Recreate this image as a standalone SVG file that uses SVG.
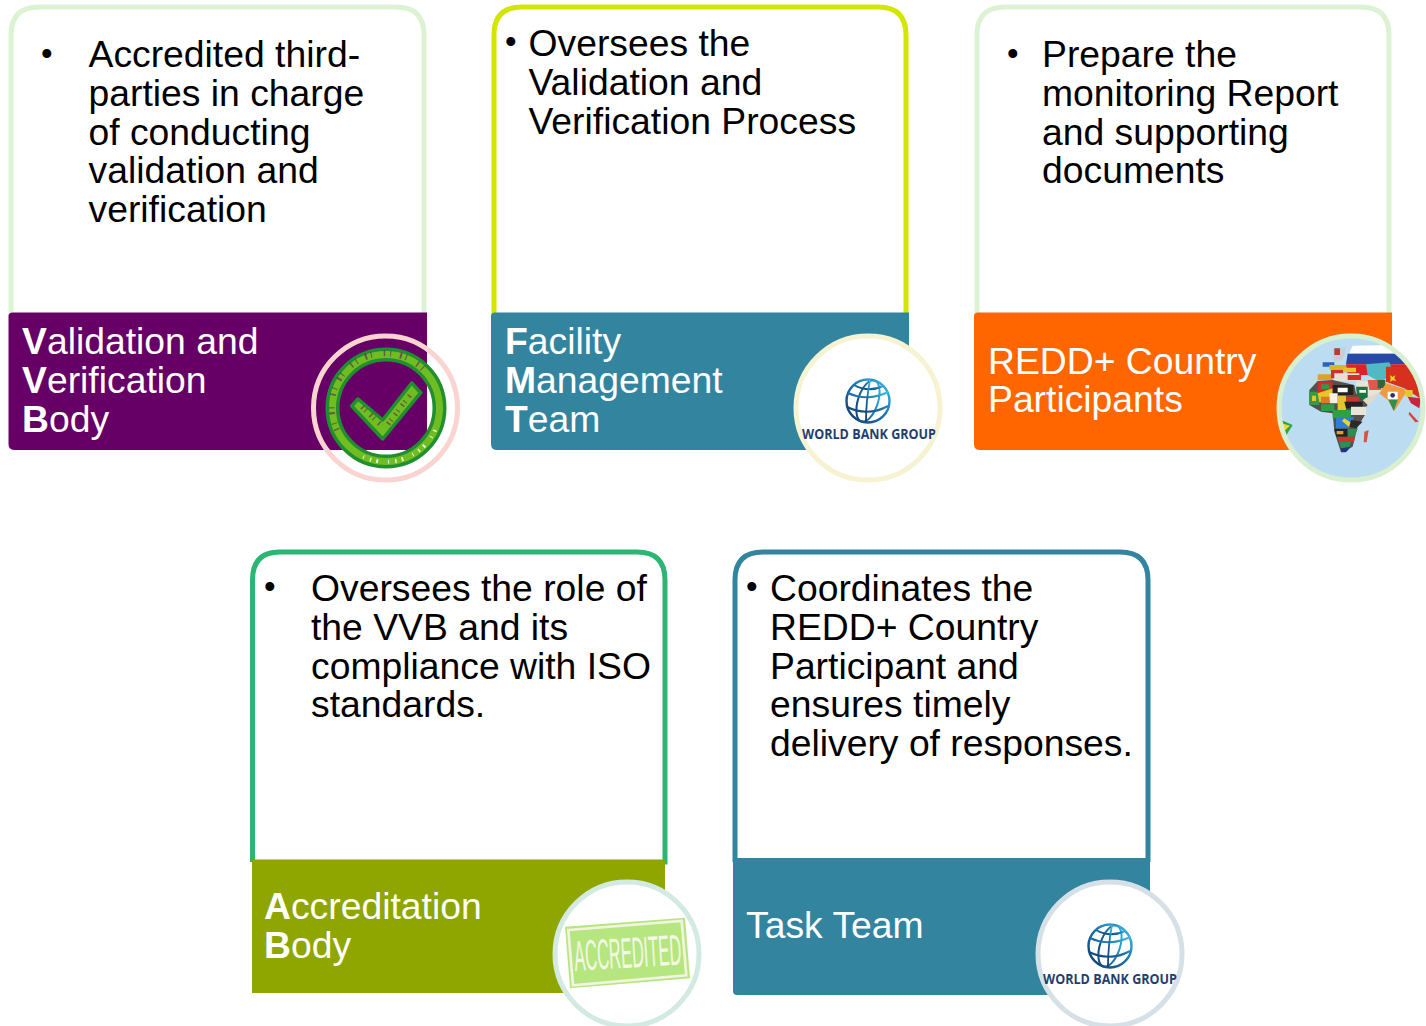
<svg xmlns="http://www.w3.org/2000/svg" width="1426" height="1026" viewBox="0 0 1426 1026">
<style>
text{font-family:"Liberation Sans",Arial,sans-serif}
.body{font-size:37.3px;fill:#000}
.bul{font-size:33px;fill:#000}
.head{font-size:37.3px;fill:#fff}
.head tspan.b{font-weight:700}
.card{fill:#fff;stroke-width:5}
.ring{stroke-width:5}
.wb{font-family:"Open Sans","Liberation Sans",sans-serif;font-weight:700;font-size:13.5px;fill:#1f3f70}
</style>
<defs>
<clipPath id="c3"><circle cx="1351" cy="408" r="73"/></clipPath>
<clipPath id="c2"><circle cx="868" cy="408" r="72"/></clipPath>
<clipPath id="c5"><circle cx="1110" cy="954" r="72"/></clipPath>
<linearGradient id="gl" x1="0" y1="1" x2="1" y2="0"><stop offset="0" stop-color="#123a6b"/><stop offset="0.5" stop-color="#1c6fa8"/><stop offset="1" stop-color="#3cc0ea"/></linearGradient>
<g id="wbglobe">
<circle cx="0" cy="0" r="21.500" fill="none" stroke="url(#gl)" stroke-width="2.400"/>
<ellipse cx="0" cy="0" rx="10" ry="21.500" fill="none" stroke="url(#gl)" stroke-width="2" transform="rotate(18)"/>
<path d="M-20-8Q0 1 20-9M-21 6Q0 16 20 5" fill="none" stroke="url(#gl)" stroke-width="2"/>
<path d="M-14-16Q0-8 15-15" fill="none" stroke="url(#gl)" stroke-width="2"/>
<path d="M2-21Q-2 0 -2 21" fill="none" stroke="url(#gl)" stroke-width="1.800"/>
</g>
</defs>
<rect width="1426" height="1026" fill="#fff"/>
<g id="connectors"></g>

<g id="node-vvb">
<path class="card" stroke="#dbf3d3" d="M11 316V35Q11 7 39 7H396Q424 7 424 35V316"/>
<path d="M13 312.500H427V450H15Q8.500 450 8.500 444V316Q8.500 312.500 13 312.500Z" fill="#660066"/>
<text class="bul" x="41" y="65">•</text>
<text class="body"><tspan x="88.500" y="67">Accredited third-</tspan><tspan x="88.500" y="106">parties in charge</tspan><tspan x="88.500" y="145">of conducting</tspan><tspan x="88.500" y="183">validation and</tspan><tspan x="88.500" y="222">verification</tspan></text>
<text class="head"><tspan x="22" y="354" class="b">V</tspan><tspan>alidation and</tspan><tspan x="22" y="393" class="b">V</tspan><tspan>erification</tspan><tspan x="22" y="432" class="b">B</tspan><tspan>ody</tspan></text>
<circle class="ring" cx="385.500" cy="408" r="72" fill="none" stroke="#fad4d0"/>
<circle cx="386" cy="408" r="53.500" fill="none" stroke="#1f8f30" stroke-width="14"/>
<circle cx="386" cy="408" r="53.500" fill="none" stroke="#6fbd20" stroke-width="7"/>
<path d="M337 430A53.500 53.500 0 0 1 425 371" fill="none" stroke="#660066" stroke-width="6" stroke-dasharray="1.500 5 1 9 2 4 1 12" opacity=".55"/>
<path d="M435 430A53.500 53.500 0 0 1 360 455" fill="none" stroke="#fff" stroke-width="4" stroke-dasharray="1.500 6 1 10 2 5" opacity=".8"/>
<path d="M351.700 406L358 399 382.700 420 411.700 383 420.700 392.700 382.700 439Z" fill="#6fbd20" stroke="#1f8f30" stroke-width="3.500" stroke-linejoin="round"/>
<path d="M362 407L382 426M388 424L411 394" fill="none" stroke="#660066" stroke-width="5" stroke-dasharray="1.500 3 1 6" opacity=".55"/>
</g>

<g id="node-fmt">
<path class="card" stroke="#d4e600" d="M494 316V35Q494 7 522 7H878Q906 7 906 35V316"/>
<path d="M495 312.500H909V450H497Q491 450 491 444V316Q491 312.500 495 312.500Z" fill="#33849f"/>
<text class="bul" x="505" y="53">•</text>
<text class="body"><tspan x="528.500" y="56">Oversees the</tspan><tspan x="528.500" y="95">Validation and</tspan><tspan x="528.500" y="134">Verification Process</tspan></text>
<text class="head"><tspan x="505" y="354" class="b">F</tspan><tspan>acility</tspan><tspan x="505" y="393" class="b">M</tspan><tspan>anagement</tspan><tspan x="505" y="432" class="b">T</tspan><tspan>eam</tspan></text>
<circle class="ring" cx="868" cy="408" r="72" fill="#fff" stroke="#f6f3d2"/>
<use href="#wbglobe" x="868" y="401"/>
<g clip-path="url(#c2)"><text class="wb" x="802" y="439" textLength="134" lengthAdjust="spacingAndGlyphs">WORLD BANK GROUP</text></g>
</g>

<g id="node-redd">
<path class="card" stroke="#dbf3d3" d="M977 316V35Q977 7 1005 7H1361Q1389 7 1389 35V316"/>
<path d="M978 312.500H1392V450H980Q974 450 974 444V316Q974 312.500 978 312.500Z" fill="#ff6600"/>
<text class="bul" x="1007" y="65">•</text>
<text class="body"><tspan x="1042" y="67">Prepare the</tspan><tspan x="1042" y="106">monitoring Report</tspan><tspan x="1042" y="145">and supporting</tspan><tspan x="1042" y="183">documents</tspan></text>
<text class="head"><tspan x="988" y="374">REDD+ Country</tspan><tspan x="988" y="412">Participants</tspan></text>
<circle cx="1351" cy="408" r="73" fill="#bcdcf2"/>
<g clip-path="url(#c3)">
<g transform="translate(1266 325) scale(.3333)">
<path d="M260 62L380 60 400 85H250Z" fill="#fff"/>
<path d="M245 86H440V118H240Z" fill="#2a48a8"/>
<path d="M240 118H480V150H245Z" fill="#d8232a"/>
<path d="M200 72L240 66 232 100 205 112Z" fill="#c6cfd4"/>
<path d="M205 70H222V90H205Z" fill="#b93a3a"/>
<path d="M170 112H205V125H170Z" fill="#2c63b5"/>
<path d="M190 120H240V135H190Z" fill="#e3b21f"/>
<path d="M155 148H200V165H155Z" fill="#e0a02a"/>
<path d="M195 135H232V160H195Z" fill="#c8352f"/>
<path d="M232 128H270V142H232Z" fill="#e9c22b"/>
<path d="M205 145H280V168H205Z" fill="#e8e0d0"/>
<path d="M245 150H285V165H245Z" fill="#d42e2b"/>
<path d="M300 118L370 112 385 150 340 170 305 150Z" fill="#4fb9c4"/>
<path d="M360 125L480 125 470 225 415 190 360 170Z" fill="#d6311f"/>
<path d="M372 150l8 6 8-6-3 10 6 8-11-2-8 5 2-10Z" fill="#f5d020"/>
<path d="M270 170L345 165 345 200 310 215 270 190Z" fill="#e9e4da"/>
<path d="M305 165H345V195H310Z" fill="#e4574d"/>
<path d="M335 165H358V190H335Z" fill="#276a3c"/>
<path d="M270 185H305V225H275Z" fill="#17773e"/>
<path d="M280 195h20v8h-20Z" fill="#fff"/>
<path d="M298 220L340 205 310 240 285 230Z" fill="#e2d9c8"/>
<path d="M360 175L425 195 400 235 385 258 365 225 340 205Z" fill="#f09a3e"/>
<path d="M365 200H395V222H365Z" fill="#fff"/>
<circle cx="380" cy="211" r="7" fill="#26327f"/>
<path d="M368 225H395L383 258Z" fill="#2f8f46"/>
<path d="M415 195H440V215H420Z" fill="#e8c52b"/>
<path d="M425 215L465 220 460 250 435 235Z" fill="#c8243b"/>
<path d="M430 260L458 290 448 292 428 268Z" fill="#d8443c"/>
<path d="M130 195L155 168 200 165 265 180 270 205 305 240 285 265 300 265 275 305 260 365 225 382 205 320 200 265 165 260 130 240Z" fill="#55504a"/>
<path d="M130 200H160V240H130Z" fill="#2e9c49"/>
<path d="M138 212H150V228H138Z" fill="#e6c624"/>
<path d="M155 170H200V205H155Z" fill="#cf2d2d"/>
<path d="M165 178H190V192H165Z" fill="#2b9a4a"/>
<path d="M155 205L200 190V232H160Z" fill="#e6c624"/>
<path d="M200 180H262V210H200Z" fill="#222"/>
<path d="M215 188H245V202H215Z" fill="#fff"/>
<path d="M165 215H195V235H165Z" fill="#e07a22"/>
<path d="M190 205H215V235H192Z" fill="#f4f0e8"/>
<path d="M215 212H240V255H215Z" fill="#e5c52a"/>
<path d="M240 215H280V230H240Z" fill="#c9342f"/>
<path d="M235 230H290V250H240Z" fill="#222"/>
<path d="M165 238H205V258H165Z" fill="#2e9c49"/>
<path d="M200 255H255V280H200Z" fill="#2f9e44"/>
<path d="M255 245H300V270H255Z" fill="#e9e4da"/>
<path d="M210 280L265 275 250 310 210 310Z" fill="#2b7fd6"/>
<path d="M235 280L262 298 248 305 228 288Z" fill="#e8d235"/>
<path d="M255 285L290 290 270 310 250 305Z" fill="#2a2a2a"/>
<path d="M205 312H245V335H212Z" fill="#222"/>
<path d="M212 318H232V328H212Z" fill="#e4a026"/>
<path d="M245 312H275L265 335H245Z" fill="#2d8f4e"/>
<path d="M215 335H265V350H220Z" fill="#c9342f"/>
<path d="M220 350H255L250 368 225 370Z" fill="#2e8f55"/>
<path d="M225 370L255 365 240 382 226 382Z" fill="#21357f"/>
<path d="M295 320L308 315 302 352 293 352Z" fill="#d5514a"/>
<path d="M45 285L80 300 58 335 50 320Z" fill="#2ea24a"/>
<path d="M48 295L72 302 55 318Z" fill="#f2d728"/>
</g>
</g>
<circle class="ring" cx="1351" cy="408" r="72" fill="none" stroke="#d9f0d0"/>
</g>

<g id="node-ab">
<path class="card" stroke="#2bb673" d="M252.500 862V580Q252.500 552 280 552H637Q665 552 665 580V862H252.500"/>
<path d="M252 860H665V993H252Z" fill="#8fa500"/>
<text class="bul" x="264" y="598">•</text>
<text class="body"><tspan x="311" y="601">Oversees the role of</tspan><tspan x="311" y="640">the VVB and its</tspan><tspan x="311" y="679">compliance with ISO</tspan><tspan x="311" y="717">standards.</tspan></text>
<text class="head"><tspan x="264" y="919" class="b">A</tspan><tspan>ccreditation</tspan><tspan x="264" y="958" class="b">B</tspan><tspan>ody</tspan></text>
<circle class="ring" cx="627" cy="954" r="72" fill="#fff" stroke="#d2eae2"/>
<g transform="translate(545 870) scale(.3333)">
<path d="M60 170L420 143 435 325 75 355Z" fill="#b6e680"/>
<path d="M70 180L410 153 424 316 84 346Z" fill="none" stroke="#f2f4df" stroke-width="8"/>
<text x="0" y="0" transform="translate(90 303) rotate(-3.500) scale(1 1.180)" font-family="'Open Sans','Liberation Sans',sans-serif" font-weight="300" font-size="110" fill="#f4f8e6" textLength="322" lengthAdjust="spacingAndGlyphs">ACCREDITED</text>
</g>
</g>

<g id="node-tt">
<path class="card" stroke="#33849f" d="M735 862V580Q735 552 763 552H1120Q1148 552 1148 580V862"/>
<path d="M733 858H1150V995H737Q733 995 733 991Z" fill="#33849f"/>
<text class="bul" x="746" y="598">•</text>
<text class="body"><tspan x="770" y="601">Coordinates the</tspan><tspan x="770" y="640">REDD+ Country</tspan><tspan x="770" y="679">Participant and</tspan><tspan x="770" y="717">ensures timely</tspan><tspan x="770" y="756">delivery of responses.</tspan></text>
<text class="head" x="746" y="938">Task Team</text>
<circle class="ring" cx="1110" cy="954" r="72" fill="#fff" stroke="#d6e1e7"/>
<use href="#wbglobe" x="1110" y="946"/>
<g clip-path="url(#c5)"><text class="wb" x="1043" y="984" textLength="134" lengthAdjust="spacingAndGlyphs">WORLD BANK GROUP</text></g>
</g>
</svg>
